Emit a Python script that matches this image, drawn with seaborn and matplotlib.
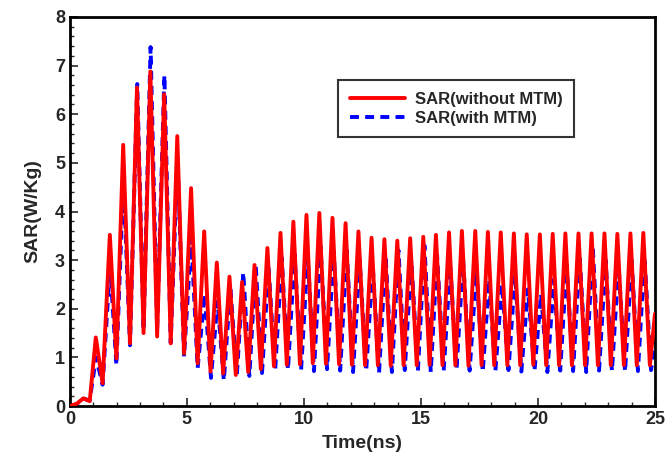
import numpy as np
import pandas as pd
import seaborn as sns
import matplotlib
matplotlib.use("Agg")
import matplotlib.pyplot as plt
from matplotlib.ticker import MultipleLocator

# ---- data (extrema) ----
red_t = [0.0, 0.3, 0.58, 0.85, 1.11, 1.40, 1.71, 1.99, 2.28, 2.57, 2.87, 3.15, 3.44, 3.73,
         4.03, 4.31, 4.59, 4.88, 5.18, 5.46, 5.74, 6.01, 6.28, 6.55, 6.82, 7.09, 7.36, 7.62,
         7.89, 8.16, 8.44, 8.72, 9.0, 9.27, 9.55, 9.83, 10.11, 10.38, 10.66, 10.94, 11.22, 11.5,
         11.78, 12.05, 12.33, 12.61, 12.89, 13.16, 13.44, 13.71, 13.99, 14.26, 14.54, 14.82,
         15.1, 15.37, 15.64, 15.92, 16.2, 16.47, 16.75, 17.03, 17.32, 17.59, 17.86, 18.13,
         18.41, 18.69, 18.97, 19.24, 19.52, 19.8, 20.08, 20.35, 20.63, 20.9, 21.17, 21.45,
         21.73, 22.01, 22.29, 22.56, 22.84, 23.11, 23.39, 23.67, 23.95, 24.22, 24.5, 24.78, 25.0]
red_v = [0.0, 0.05, 0.16, 0.10, 1.41, 0.47, 3.52, 0.98, 5.37, 1.29, 6.55, 1.50, 6.88, 1.43,
         6.41, 1.29, 5.55, 1.08, 4.48, 0.88, 3.59, 0.71, 2.95, 0.67, 2.66, 0.64, 2.55, 0.70,
         2.90, 0.76, 3.25, 0.82, 3.56, 0.85, 3.79, 0.86, 3.93, 0.88, 3.97, 0.87, 3.87, 0.86,
         3.76, 0.85, 3.59, 0.84, 3.46, 0.84, 3.43, 0.83, 3.40, 0.84, 3.45, 0.84, 3.48, 0.85,
         3.52, 0.84, 3.57, 0.84, 3.60, 0.83, 3.60, 0.84, 3.58, 0.84, 3.57, 0.84, 3.55, 0.84,
         3.53, 0.85, 3.53, 0.84, 3.54, 0.84, 3.55, 0.84, 3.55, 0.84, 3.55, 0.84, 3.55, 0.84,
         3.54, 0.84, 3.55, 0.84, 3.56, 0.84, 1.90]

blue_t = [0.0, 0.3, 0.58, 0.85, 1.12, 1.40, 1.72, 1.99, 2.29, 2.57, 2.88, 3.15, 3.45, 3.73,
          4.04, 4.31, 4.60, 4.88, 5.19, 5.46, 5.76, 6.03, 6.31, 6.58, 6.86, 7.13, 7.41, 7.67,
          7.94, 8.21, 8.49, 8.77, 9.05, 9.32, 9.60, 9.88, 10.16, 10.43, 10.71, 10.99, 11.27,
          11.55, 11.83, 12.10, 12.38, 12.66, 12.94, 13.21, 13.49, 13.76, 14.04, 14.31, 14.59,
          14.87, 15.15, 15.42, 15.69, 15.97, 16.25, 16.52, 16.80, 17.08, 17.37, 17.64, 17.91,
          18.18, 18.46, 18.74, 19.02, 19.29, 19.57, 19.85, 20.13, 20.40, 20.68, 20.95, 21.22,
          21.50, 21.78, 22.06, 22.34, 22.61, 22.89, 23.16, 23.44, 23.72, 24.00, 24.27, 24.55,
          24.83, 25.0]
blue_v = [0.0, 0.03, 0.15, 0.12, 1.00, 0.44, 2.90, 0.84, 4.72, 1.25, 6.62, 1.56, 7.38, 1.60,
          6.80, 1.30, 5.10, 1.02, 3.45, 0.78, 2.30, 0.58, 2.15, 0.53, 2.45, 0.60, 2.75, 0.62,
          2.90, 0.68, 2.85, 0.72, 3.05, 0.75, 3.12, 0.74, 3.10, 0.72, 3.28, 0.76, 3.18, 0.73,
          3.20, 0.70, 3.00, 0.72, 2.90, 0.68, 3.10, 0.70, 3.20, 0.74, 3.00, 0.72, 3.30, 0.70,
          3.10, 0.72, 2.90, 0.75, 3.00, 0.73, 2.80, 0.70, 2.60, 0.72, 2.50, 0.74, 2.70, 0.71,
          2.40, 0.72, 2.30, 0.70, 2.60, 0.73, 2.90, 0.72, 3.10, 0.70, 3.28, 0.73, 3.00, 0.72,
          2.90, 0.71, 3.00, 0.72, 3.05, 0.74, 1.30]

labels = ["SAR(without MTM)", "SAR(with MTM)"]
x_ticks = [0, 5, 10, 15, 20, 25]
y_ticks = [0, 1, 2, 3, 4, 5, 6, 7, 8]

red_df = pd.DataFrame({"t": red_t, "v": red_v})
blue_df = pd.DataFrame({"t": blue_t, "v": blue_v})

sns.set_style("white")
plt.rcParams["font.family"] = ["Liberation Sans", "DejaVu Sans"]
plt.rcParams["font.weight"] = "bold"

fig = plt.figure(figsize=(6.65, 4.70), dpi=100)
ax = fig.add_axes([0.105, 0.136, 0.880, 0.828])

sns.lineplot(data=red_df, x="t", y="v", ax=ax, color="#ff0000", lw=2.8,
             estimator=None, sort=False, label=labels[0], zorder=3)
sns.lineplot(data=blue_df, x="t", y="v", ax=ax, color="#0000ff", lw=2.8,
             estimator=None, sort=False, label=labels[1], zorder=2)
ax.lines[1].set_dashes((2.3, 1.6))

ax.set_xlim(0, 25)
ax.set_ylim(0, 8)
ax.set_xticks(x_ticks)
ax.set_yticks(y_ticks)
ax.xaxis.set_minor_locator(MultipleLocator(1))
ax.yaxis.set_minor_locator(MultipleLocator(0.2))
ax.tick_params(axis="both", which="major", direction="in", length=6, width=1.2,
               labelsize=13, top=False, right=False, bottom=True, left=True)
ax.tick_params(axis="both", which="minor", direction="in", length=3, width=1.0,
               top=False, right=False, bottom=True, left=True)
for lab in ax.get_xticklabels() + ax.get_yticklabels():
    lab.set_fontweight("bold")
for s in ax.spines.values():
    s.set_linewidth(2.0)
    s.set_color("black")

ax.set_xlabel("Time(ns)", fontsize=14, fontweight="bold", labelpad=5)
ax.set_ylabel("SAR(W/Kg)", fontsize=14, fontweight="bold", labelpad=10)

leg = ax.legend(loc="upper left", bbox_to_anchor=(0.458, 0.838), borderaxespad=0,
                frameon=True, fancybox=False, shadow=False, fontsize=12,
                handlelength=3.3, borderpad=0.7, labelspacing=0.25, handletextpad=0.6)
leg.get_frame().set_edgecolor("black")
leg.get_frame().set_linewidth(1.5)
for txt in leg.get_texts():
    txt.set_fontweight("bold")
leg.get_lines()[1].set_dashes((2.3, 1.6))

fig.savefig("out.png", dpi=100)
